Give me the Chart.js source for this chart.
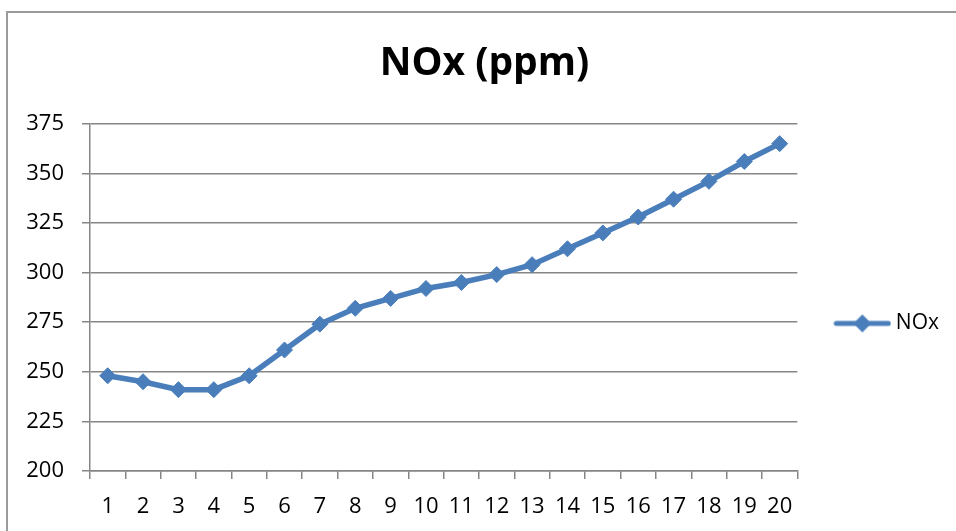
<!DOCTYPE html>
<html>
<head>
<meta charset="utf-8">
<script src="https://cdn.jsdelivr.net/npm/chart.js@4/dist/chart.umd.min.js"></script>
<style>
  html, body { margin: 0; padding: 0; background: #fff; overflow: hidden; }
  #frame {
    position: absolute; left: 6px; top: 11px; width: 1000px; height: 600px;
    border-left: 2px solid #9b9b9b; border-top: 2px solid #9b9b9b;
  }
  #chart { position: absolute; left: 0; top: 0; }
</style>
</head>
<body>
<div id="frame"></div>
<canvas id="chart" width="956" height="531"></canvas>
<script>
const categories = ['1', '2', '3', '4', '5', '6', '7', '8', '9', '10',
  '11', '12', '13', '14', '15', '16', '17', '18', '19', '20'];
const noxValues = [248, 245, 241, 241, 248, 261, 274, 282, 287, 292,
  295, 299, 304, 312, 320, 328, 337, 346, 356, 365];
const yTicks = [200, 225, 250, 275, 300, 325, 350, 375];

const blue = '#4a7ebb';
const gridGray = '#868686';
const fontFamily = '"Open Sans", "Liberation Sans", sans-serif';

// legend icon: a short line with a diamond on it
const icon = document.createElement('canvas');
icon.width = 58;
icon.height = 20;
const ictx = icon.getContext('2d');
ictx.strokeStyle = blue;
ictx.lineWidth = 5;
ictx.lineCap = 'round';
ictx.beginPath();
ictx.moveTo(3, 10);
ictx.lineTo(55, 10);
ictx.stroke();
ictx.fillStyle = blue;
ictx.beginPath();
ictx.moveTo(29, 1);
ictx.lineTo(38, 10);
ictx.lineTo(29, 19);
ictx.lineTo(20, 10);
ictx.closePath();
ictx.fill();

// nudge legend down and title right a little, like the spreadsheet layout
const boxShift = {
  id: 'boxShift',
  afterLayout(chart) {
    const lg = chart.legend;
    lg.top += 26;
    lg.bottom += 26;
    const t = chart.titleBlock;
    t.left += 10;
    t.right += 10;
  }
};

new Chart(document.getElementById('chart'), {
  type: 'line',
  data: {
    labels: categories,
    datasets: [{
      label: 'NOx',
      data: noxValues,
      borderColor: blue,
      backgroundColor: blue,
      borderWidth: 5.5,
      tension: 0,
      pointStyle: 'rectRot',
      pointRadius: 8,
      pointBorderWidth: 1,
      pointBackgroundColor: blue,
      pointBorderColor: blue
    }]
  },
  options: {
    responsive: false,
    animation: false,
    layout: { padding: { left: 0, right: 7, top: 0, bottom: 0 } },
    plugins: {
      title: {
        display: true,
        text: 'NOx (ppm)',
        color: '#000',
        font: { family: fontFamily, size: 39, weight: 'bold' },
        padding: { top: 40, bottom: 37 }
      },
      legend: {
        position: 'right',
        fullSize: false,
        labels: {
          color: '#000',
          font: { family: fontFamily, size: 21 },
          padding: 42,
          usePointStyle: true,
          pointStyleWidth: 46,
          generateLabels(chart) {
            return Chart.defaults.plugins.legend.labels.generateLabels(chart).map(item => {
              item.pointStyle = icon;
              return item;
            });
          }
        }
      },
      tooltip: { enabled: false }
    },
    scales: {
      x: {
        offset: true,
        grid: {
          offset: true,
          drawOnChartArea: false,
          drawTicks: true,
          tickLength: 8,
          color: gridGray,
          lineWidth: 1.5
        },
        border: { color: gridGray, width: 1.5 },
        ticks: {
          color: '#000',
          font: { family: fontFamily, size: 22 },
          padding: 15,
          maxRotation: 0,
          autoSkip: false
        },
        afterFit(scale) { scale.height = 60; }
      },
      y: {
        min: 200,
        max: 375,
        afterBuildTicks(scale) { scale.ticks = yTicks.map(v => ({ value: v })); },
        grid: {
          drawTicks: true,
          tickLength: 8,
          color: gridGray,
          lineWidth: 1.5
        },
        border: { color: gridGray, width: 1.5 },
        ticks: {
          color: '#000',
          font: { family: fontFamily, size: 22 },
          padding: 18
        },
        afterFit(scale) { scale.width = 90; }
      }
    }
  },
  plugins: [boxShift]
});
</script>
</body>
</html>
